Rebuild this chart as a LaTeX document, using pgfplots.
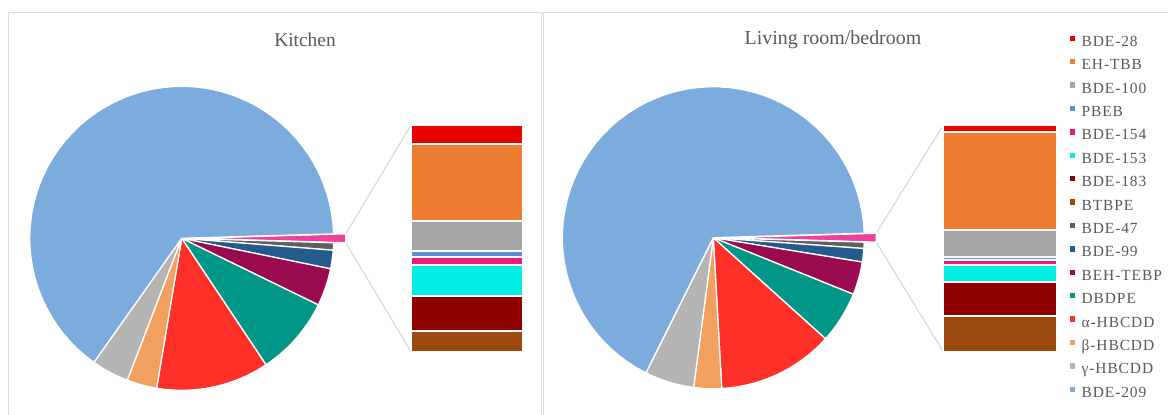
\documentclass[border=0pt]{standalone}
\usepackage{pgfplots}
\pgfplotsset{compat=1.18}
\usepackage{fontspec}
\setmainfont{Liberation Serif}
\newfontfamily\legfont[LetterSpace=6]{Liberation Serif}

\definecolor{cA}{HTML}{E60000} % BDE-28
\definecolor{cB}{HTML}{ED7D31} % EH-TBB
\definecolor{cC}{HTML}{A5A5A5} % BDE-100
\definecolor{cD}{HTML}{5B8FCF} % PBEB
\definecolor{cE}{HTML}{EC1C80} % BDE-154
\definecolor{cF}{HTML}{00EEE4} % BDE-153
\definecolor{cG}{HTML}{8E0000} % BDE-183
\definecolor{cH}{HTML}{9C4A10} % BTBPE
\definecolor{cI}{HTML}{5F5F5F} % BDE-47
\definecolor{cJ}{HTML}{245A8C} % BDE-99
\definecolor{cK}{HTML}{9A0A50} % BEH-TEBP
\definecolor{cL}{HTML}{009688} % DBDPE
\definecolor{cM}{HTML}{FF3028} % alpha-HBCDD
\definecolor{cN}{HTML}{F2A060} % beta-HBCDD
\definecolor{cO}{HTML}{B4B4B4} % gamma-HBCDD
\definecolor{cP}{HTML}{7BACDD} % BDE-209
\definecolor{cOther}{HTML}{F0409E}
\definecolor{txt}{HTML}{595959}
\definecolor{frame}{HTML}{DEDEDE}
\definecolor{conn}{HTML}{D4D4D4}

% pie: #1 start angle (math deg), #2 explode of first slice, #3 list value(%)/colour
\newcommand\pieslices[3]{%
  \xdef\cumang{#1}%
  \foreach \v/\c [count=\i] in {#3} {%
    \pgfmathsetmacro\angB{\cumang}%
    \pgfmathsetmacro\angA{\cumang-3.6*\v}%
    \xdef\cumang{\angA}%
    \ifnum\i=1 \def\ex{#2}\else\def\ex{0}\fi
    \edef\tmp{\noexpand\addplot[fill=\c, draw=white, line width=1.3bp, domain=\angA:\angB, samples=60] ({\ex+cos(x)},{sin(x)}) -- (axis cs:\ex,0) -- cycle;}%
    \tmp
  }}

\pgfplotsset{
  pieaxis/.style={anchor=center, scale only axis, xmin=-1, xmax=1, ymin=-1, ymax=1, hide axis, clip=false},
  baraxis/.style={anchor=south west, scale only axis, hide axis, clip=false, ybar stacked, xmin=-0.5, xmax=0.5, ymin=0, ymax=0.94},
  seg/.style={fill=#1, draw=white, line width=2bp},
  sqleg/.style={legend image code/.code={\fill[#1] (0bp,2.6bp) rectangle (4.4bp,7.0bp);}},
}

\begin{document}
\begin{tikzpicture}
\useasboundingbox (0,0) rectangle (1168bp,-415bp);
% panel frames
\draw[frame, line width=1bp] (8bp,-430bp) -- (8bp,-12bp) -- (541bp,-12bp) -- (541bp,-430bp);
\draw[frame, line width=1bp] (543bp,-430bp) -- (543bp,-12bp) -- (1180bp,-12bp);
% titles
\node[font=\fontsize{19.5}{22}\selectfont, text=txt] at (305bp,-40bp) {Kitchen};
\node[font=\fontsize{20}{22}\selectfont, text=txt] at (833bp,-40bp) {Living room/bedroom};
% connector lines
\draw[conn, line width=1bp] (345.8bp,-233.8bp) -- (411bp,-125bp);
\draw[conn, line width=1bp] (345.8bp,-242.8bp) -- (411bp,-351.7bp);
\draw[conn, line width=1bp] (876.3bp,-233.2bp) -- (943.3bp,-125bp);
\draw[conn, line width=1bp] (876.3bp,-242.2bp) -- (943.3bp,-351.7bp);

% ---- Kitchen pie ----
\begin{axis}[pieaxis, at={(181.7bp,-238.3bp)}, width=304bp, height=304bp]
\pieslices{1.692}{0.08}{0.94/cOther, 0.78/cI, 1.97/cJ, 4.00/cK, 8.42/cL, 12.00/cM, 3.19/cN, 3.97/cO, 64.73/cP}
\end{axis}
% ---- Kitchen bar (values in % of total, stacked bottom to top) ----
\begin{axis}[baraxis, at={(411bp,-351.7bp)}, width=112.3bp, height=226.7bp, bar width=112.3bp]
\addplot[seg=cH] coordinates {(0,0.085)};
\addplot[seg=cG] coordinates {(0,0.144)};
\addplot[seg=cF] coordinates {(0,0.130)};
\addplot[seg=cE] coordinates {(0,0.034)};
\addplot[seg=cD] coordinates {(0,0.023)};
\addplot[seg=cC] coordinates {(0,0.127)};
\addplot[seg=cB] coordinates {(0,0.317)};
\addplot[seg=cA] coordinates {(0,0.080)};
\end{axis}

% ---- Living room pie ----
\begin{axis}[pieaxis, at={(713.3bp,-237.7bp)}, width=302bp, height=302bp]
\pieslices{1.692}{0.08}{0.94/cOther, 0.67/cI, 1.44/cJ, 3.53/cK, 5.56/cL, 12.44/cM, 2.97/cN, 5.28/cO, 67.17/cP}
\end{axis}
% ---- Living room bar ----
\begin{axis}[baraxis, at={(943.3bp,-351.7bp)}, width=113.4bp, height=226.7bp, bar width=113.4bp]
\addplot[seg=cH] coordinates {(0,0.148)};
\addplot[seg=cG] coordinates {(0,0.143)};
\addplot[seg=cF] coordinates {(0,0.068)};
\addplot[seg=cE] coordinates {(0,0.023)};
\addplot[seg=cD] coordinates {(0,0.010)};
\addplot[seg=cC] coordinates {(0,0.111)};
\addplot[seg=cB] coordinates {(0,0.409)};
\addplot[seg=cA] coordinates {(0,0.028)};
\end{axis}

% ---- Legend ----
\begin{axis}[at={(1069.8bp,-35.6bp)}, anchor=north west, scale only axis, width=90bp, height=350bp,
  hide axis, xmin=0, xmax=1, ymin=0, ymax=1,
  legend style={at={(0,1)}, anchor=north west, draw=none, fill=none, inner sep=0pt, outer sep=0pt,
    font=\legfont\fontsize{15.5}{16}\selectfont, text=txt, row sep=9.7bp,
    nodes={inner sep=0pt, outer sep=0pt, text height=10bp, text depth=3bp},
    /tikz/every odd column/.append style={column sep=7bp}},
  legend cell align=left]
\addlegendimage{sqleg=cA}\addlegendentry{BDE-28}
\addlegendimage{sqleg=cB}\addlegendentry{EH-TBB}
\addlegendimage{sqleg=cC}\addlegendentry{BDE-100}
\addlegendimage{sqleg=cD}\addlegendentry{PBEB}
\addlegendimage{sqleg=cE}\addlegendentry{BDE-154}
\addlegendimage{sqleg=cF}\addlegendentry{BDE-153}
\addlegendimage{sqleg=cG}\addlegendentry{BDE-183}
\addlegendimage{sqleg=cH}\addlegendentry{BTBPE}
\addlegendimage{sqleg=cI}\addlegendentry{BDE-47}
\addlegendimage{sqleg=cJ}\addlegendentry{BDE-99}
\addlegendimage{sqleg=cK}\addlegendentry{BEH-TEBP}
\addlegendimage{sqleg=cL}\addlegendentry{DBDPE}
\addlegendimage{sqleg=cM}\addlegendentry{α-HBCDD}
\addlegendimage{sqleg=cN}\addlegendentry{β-HBCDD}
\addlegendimage{sqleg=cO}\addlegendentry{γ-HBCDD}
\addlegendimage{sqleg=cP}\addlegendentry{BDE-209}
\end{axis}
\end{tikzpicture}
\end{document}
